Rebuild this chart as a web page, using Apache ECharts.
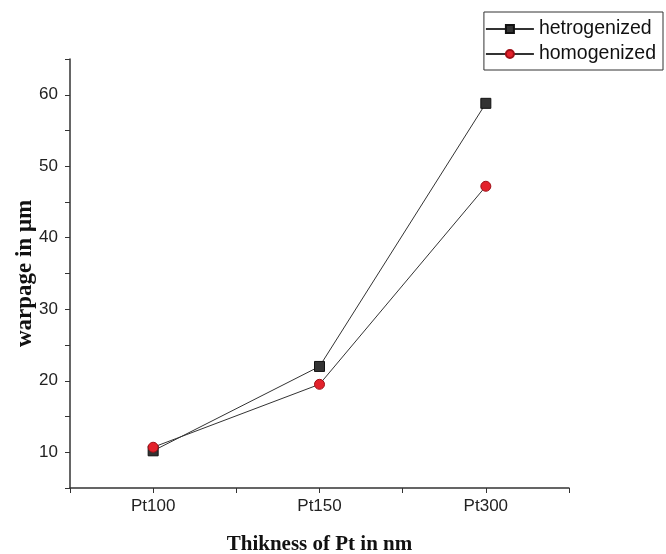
<!DOCTYPE html>
<html><head><meta charset="utf-8">
<script src="https://cdn.jsdelivr.net/npm/echarts@6/dist/echarts.min.js"></script>
<style>html,body{margin:0;padding:0;background:#fff}#c{width:666px;height:554px}</style>
</head><body><div id="c"></div>
<script>
const categories = ['Pt100', 'Pt150', 'Pt300'];
const hetrogenized = [10.2, 22.0, 58.8];
const homogenized = [10.7, 19.5, 47.2];
const yTickLabels = [10, 20, 30, 40, 50, 60];

const toPairs = arr => arr.map((v, i) => [i + 1, v]);

const chart = echarts.init(document.getElementById('c'), null, {renderer: 'canvas'});
const axisColor = '#333';
chart.setOption({
  animation: false,
  backgroundColor: '#fff',
  grid: {left: 70, right: 97, top: 59, bottom: 66, containLabel: false, outerBoundsMode: 'none'},
  legend: {
    right: 3, top: 12, orient: 'vertical',
    itemWidth: 48, itemHeight: 10, itemGap: 5,
    padding: [7, 7, 6, 1],
    borderColor: '#333', borderWidth: 1,
    textStyle: {fontFamily: 'Liberation Sans', fontSize: 19.5, color: '#111'},
    data: ['hetrogenized', 'homogenized']
  },
  xAxis: {
    type: 'value', min: 0.5, max: 3.5, interval: 0.5,
    axisLine: {show: true, onZero: false, lineStyle: {color: axisColor, width: 1.5}},
    axisTick: {show: true, inside: false, length: 5, lineStyle: {color: axisColor}},
    axisLabel: {
      fontFamily: 'Liberation Sans', fontSize: 17, color: '#222', margin: 10,
      formatter: v => (Number.isInteger(v) && categories[v - 1]) ? categories[v - 1] : ''
    },
    name: 'Thikness of Pt in nm', nameLocation: 'middle', nameGap: 46,
    nameTextStyle: {fontFamily: 'Liberation Serif', fontWeight: 'bold', fontSize: 21, color: '#111'},
    splitLine: {show: false}
  },
  yAxis: {
    type: 'value', min: 5, max: 65, interval: 5,
    axisLine: {show: true, onZero: false, lineStyle: {color: axisColor, width: 1.5}},
    axisTick: {show: true, length: 5, lineStyle: {color: axisColor}},
    axisLabel: {
      fontFamily: 'Liberation Sans', fontSize: 17, color: '#222', margin: 12,
      formatter: v => yTickLabels.indexOf(v) >= 0 ? String(v) : ''
    },
    splitLine: {show: false},
    name: 'warpage in μm', nameLocation: 'middle', nameGap: 33, nameRotate: 90,
    nameMoveOverlap: false,
    nameTextStyle: {fontFamily: 'Liberation Serif', fontWeight: 'bold', fontSize: 23, color: '#111'}
  },
  series: [{
    name: 'hetrogenized', type: 'line', data: toPairs(hetrogenized),
    symbol: 'rect', symbolSize: 10,
    lineStyle: {color: '#333', width: 1},
    itemStyle: {color: '#333', borderColor: '#111', borderWidth: 1}
  }, {
    name: 'homogenized', type: 'line', data: toPairs(homogenized),
    symbol: 'circle', symbolSize: 10,
    lineStyle: {color: '#333', width: 1},
    itemStyle: {color: '#e3222c', borderColor: '#a01018', borderWidth: 1}
  }]
});
</script></body></html>
